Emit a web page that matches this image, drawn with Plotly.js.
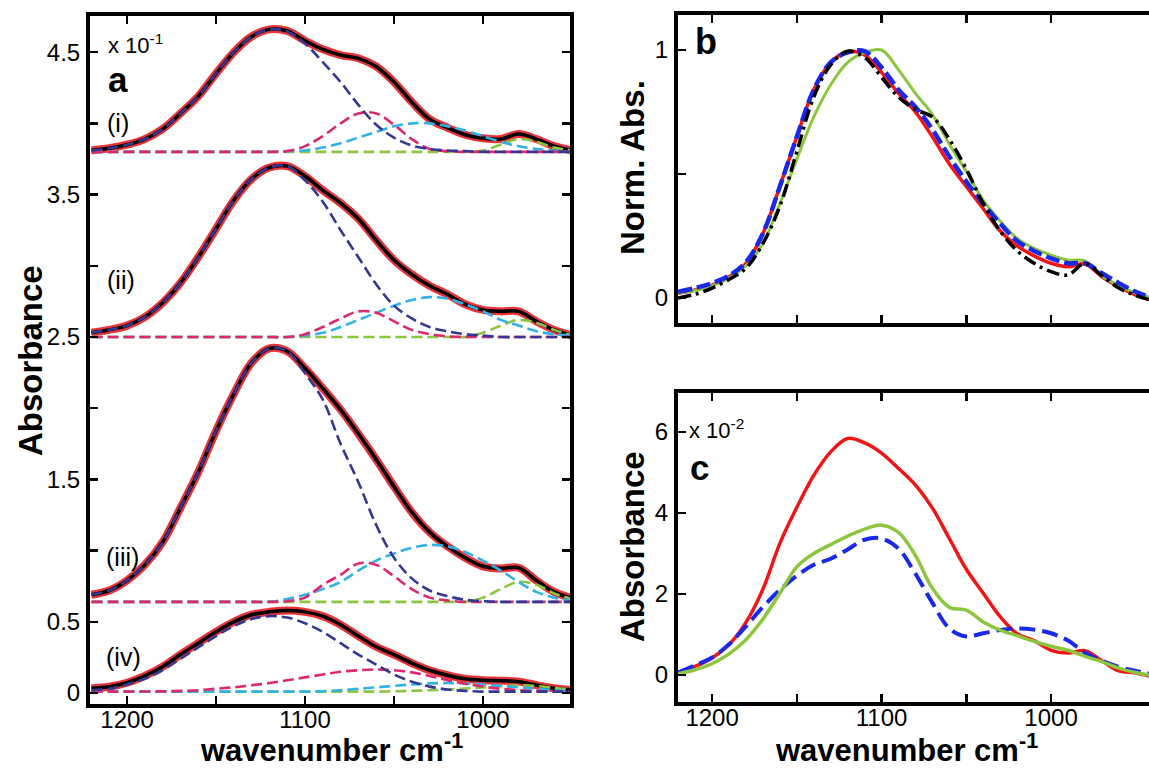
<!DOCTYPE html>
<html>
<head>
<meta charset="utf-8">
<script src="https://cdn.plot.ly/plotly-3.0.1.min.js"></script>
<style>html,body{margin:0;padding:0;background:#fff;}#chart{width:1149px;height:769px;}</style>
</head>
<body>
<div id="chart"></div>
<script>
// ---------- DATA ----------
// Panel a: wavenumber grid (cm-1) and spectra (x 10^-1, offset stacked)
const wnA = [1220,1210,1200,1190,1180,1170,1160,1150,1140,1130,1120,1110,1100,1090,1080,1070,1060,1050,1040,1030,1020,1010,1000,990,980,970,960,950];

const totI   = [3.81,3.825,3.85,3.89,3.96,4.07,4.19,4.35,4.50,4.61,4.66,4.65,4.58,4.52,4.48,4.457,4.40,4.29,4.15,4.03,3.97,3.92,3.895,3.89,3.925,3.89,3.84,3.81];
const navyI  = [3.81,3.825,3.85,3.89,3.96,4.07,4.19,4.35,4.50,4.61,4.66,4.645,4.56,4.43,4.29,4.13,3.99,3.90,3.845,3.82,3.81,3.805,3.80,3.80,3.80,3.80,3.80,3.80];
const magI   = [3.80,3.80,3.80,3.80,3.80,3.80,3.80,3.80,3.80,3.80,3.80,3.805,3.84,3.91,4.00,4.07,4.07,3.99,3.89,3.82,3.805,3.80,3.80,3.80,3.80,3.80,3.80,3.80];
const cyanI  = [3.80,3.80,3.80,3.80,3.80,3.80,3.80,3.80,3.80,3.80,3.80,3.805,3.81,3.83,3.86,3.90,3.94,3.98,4.00,4.00,3.98,3.95,3.91,3.87,3.84,3.82,3.81,3.80];
const grnI   = [3.80,3.80,3.80,3.80,3.80,3.80,3.80,3.80,3.80,3.80,3.80,3.80,3.80,3.80,3.80,3.80,3.80,3.80,3.80,3.80,3.80,3.80,3.81,3.85,3.89,3.87,3.83,3.81];

const totII  = [2.53,2.55,2.58,2.64,2.74,2.88,3.06,3.26,3.46,3.61,3.69,3.70,3.63,3.53,3.44,3.33,3.18,3.04,2.94,2.86,2.80,2.73,2.69,2.68,2.68,2.61,2.55,2.51];
const navyII = [2.53,2.55,2.58,2.64,2.74,2.88,3.06,3.26,3.46,3.61,3.69,3.70,3.60,3.45,3.25,3.06,2.87,2.72,2.63,2.57,2.54,2.52,2.51,2.50,2.50,2.50,2.50,2.50];
const magII  = [2.50,2.50,2.50,2.50,2.50,2.50,2.50,2.50,2.50,2.50,2.50,2.50,2.52,2.57,2.63,2.68,2.67,2.61,2.55,2.52,2.505,2.50,2.50,2.50,2.50,2.50,2.50,2.50];
const cyanII = [2.50,2.50,2.50,2.50,2.50,2.50,2.50,2.50,2.50,2.50,2.50,2.50,2.51,2.53,2.57,2.62,2.67,2.72,2.76,2.78,2.77,2.73,2.68,2.62,2.58,2.54,2.52,2.51];
const grnII  = [2.50,2.50,2.50,2.50,2.50,2.50,2.50,2.50,2.50,2.50,2.50,2.50,2.50,2.50,2.50,2.50,2.50,2.50,2.50,2.50,2.50,2.50,2.53,2.58,2.62,2.60,2.55,2.51];

const totIII  = [0.69,0.72,0.79,0.90,1.06,1.30,1.55,1.84,2.10,2.32,2.42,2.40,2.28,2.14,1.99,1.82,1.64,1.45,1.27,1.13,1.03,0.95,0.89,0.875,0.88,0.79,0.71,0.665];
const navyIII = [0.69,0.72,0.79,0.90,1.06,1.30,1.55,1.84,2.10,2.32,2.42,2.40,2.245,2.06,1.75,1.48,1.18,0.95,0.805,0.72,0.68,0.655,0.645,0.64,0.64,0.64,0.64,0.64];
const magIII  = [0.64,0.64,0.64,0.64,0.64,0.64,0.64,0.64,0.64,0.64,0.64,0.645,0.67,0.76,0.83,0.91,0.90,0.82,0.73,0.67,0.65,0.64,0.64,0.64,0.64,0.64,0.64,0.64];
const cyanIII = [0.64,0.64,0.64,0.64,0.64,0.64,0.64,0.64,0.64,0.64,0.64,0.66,0.69,0.73,0.78,0.86,0.93,0.98,1.02,1.04,1.03,0.99,0.93,0.86,0.78,0.71,0.67,0.65];
const grnIII  = [0.64,0.64,0.64,0.64,0.64,0.64,0.64,0.64,0.64,0.64,0.64,0.64,0.64,0.64,0.64,0.64,0.64,0.64,0.64,0.64,0.64,0.64,0.67,0.73,0.78,0.76,0.70,0.66];

const totIV  = [0.033,0.044,0.072,0.12,0.185,0.27,0.35,0.43,0.50,0.55,0.57,0.58,0.57,0.54,0.48,0.40,0.325,0.27,0.21,0.16,0.125,0.10,0.09,0.087,0.08,0.056,0.033,0.02];
const navyIV = [0.02,0.03,0.06,0.10,0.16,0.24,0.32,0.40,0.47,0.52,0.54,0.53,0.49,0.43,0.35,0.27,0.20,0.13,0.08,0.045,0.025,0.015,0.01,0.01,0.01,0.01,0.01,0.01];
const magIV  = [0.01,0.01,0.01,0.011,0.012,0.015,0.02,0.03,0.04,0.055,0.07,0.09,0.11,0.13,0.15,0.16,0.165,0.16,0.145,0.12,0.09,0.065,0.045,0.03,0.02,0.015,0.01,0.01];
const cyanIV = [0.01,0.01,0.01,0.01,0.01,0.01,0.01,0.01,0.01,0.01,0.01,0.01,0.01,0.013,0.02,0.03,0.04,0.05,0.06,0.068,0.07,0.068,0.06,0.05,0.04,0.03,0.02,0.015];
const grnIV  = [0.01,0.01,0.01,0.01,0.01,0.01,0.01,0.01,0.01,0.01,0.01,0.01,0.01,0.01,0.01,0.01,0.01,0.012,0.015,0.02,0.025,0.032,0.04,0.048,0.055,0.05,0.035,0.025];

// Panel b: normalised absorbance
const wnBC = [1220,1210,1200,1190,1180,1170,1160,1150,1140,1130,1120,1110,1100,1090,1080,1070,1060,1050,1040,1030,1020,1010,1000,990,980,970,960,950,940];
const bRed   = [0.019,0.032,0.052,0.086,0.14,0.26,0.45,0.65,0.84,0.95,0.993,0.98,0.91,0.825,0.75,0.65,0.54,0.45,0.36,0.27,0.21,0.17,0.14,0.126,0.137,0.086,0.046,0.012,-0.01];
const bBlue  = [0.025,0.04,0.06,0.09,0.145,0.26,0.45,0.65,0.84,0.95,0.99,0.995,0.93,0.84,0.77,0.68,0.57,0.47,0.38,0.30,0.23,0.19,0.16,0.14,0.14,0.10,0.06,0.025,0.0];
const bGreen = [0.02,0.03,0.05,0.08,0.13,0.22,0.38,0.56,0.73,0.86,0.95,0.99,1.0,0.92,0.825,0.74,0.62,0.51,0.395,0.31,0.24,0.20,0.173,0.153,0.15,0.09,0.05,0.02,0.0];
const bBlack = [0.0,0.015,0.04,0.075,0.12,0.22,0.37,0.59,0.81,0.94,0.995,0.97,0.89,0.81,0.76,0.73,0.64,0.52,0.38,0.27,0.19,0.14,0.106,0.093,0.14,0.09,0.04,0.01,-0.01];

// Panel c: absorbance (x 10^-2)
const cRed   = [0.07,0.21,0.42,0.75,1.30,2.12,3.25,4.14,4.93,5.51,5.84,5.73,5.48,5.10,4.69,4.12,3.37,2.61,2.02,1.44,1.02,0.85,0.61,0.54,0.60,0.35,0.10,0.05,-0.05];
const cGreen = [0.03,0.13,0.28,0.52,0.87,1.38,2.02,2.67,3.00,3.22,3.43,3.60,3.70,3.52,2.95,2.14,1.67,1.60,1.31,1.11,0.97,0.83,0.71,0.61,0.46,0.33,0.17,0.06,-0.02];
const cBlue  = [0.06,0.24,0.43,0.76,1.20,1.68,2.10,2.45,2.72,2.87,3.10,3.34,3.37,3.12,2.50,1.78,1.15,0.95,1.03,1.11,1.15,1.12,1.03,0.85,0.55,0.35,0.20,0.10,0.02];

// Tick values (labelled major ticks + unlabelled minor ticks)
const xMajor = [1200,1100,1000];
const xMinor = [1150,1050];
const aYMajor = [0,0.5,1.5,2.5,3.5,4.5];
const aYMinor = [1,2,3,4];
const bYMajor = [0,1];
const bYMinor = [0.5];
const cYMajor = [0,2,4,6];

// ---------- LAYOUT HELPERS ----------
const W = 1149, H = 769;
const px = p => p / W;
const py = p => 1 - p / H;
const FONT = 'Liberation Sans, Arial, Helvetica, sans-serif';

const C_RED = 'rgba(228,30,36,0.9)';
const C_NAVY = 'rgb(52,56,148)';
const C_MAG = 'rgb(222,40,110)';
const C_CYAN = 'rgb(48,178,230)';
const C_GRN = 'rgb(140,198,63)';

const traces = [];
function spectrum(tot, navy, mag, cyan, grn) {
  traces.push({x: wnA, y: tot, xaxis: 'x', yaxis: 'y', mode: 'lines', line: {color: C_RED, width: 8, shape: 'spline'}});
  traces.push({x: wnA, y: tot, xaxis: 'x', yaxis: 'y', mode: 'lines', line: {color: '#000', width: 3.5, shape: 'spline'}});
  [[grn, C_GRN], [cyan, C_CYAN], [mag, C_MAG], [navy, C_NAVY]].forEach(([d, c]) => {
    traces.push({x: wnA, y: d, xaxis: 'x', yaxis: 'y', mode: 'lines', line: {color: c, width: 2.6, dash: '11px,5px', shape: 'spline'}});
  });
}
spectrum(totI, navyI, magI, cyanI, grnI);
spectrum(totII, navyII, magII, cyanII, grnII);
spectrum(totIII, navyIII, magIII, cyanIII, grnIII);
spectrum(totIV, navyIV, magIV, cyanIV, grnIV);

// panel b
traces.push({x: wnBC, y: bRed, xaxis: 'x2', yaxis: 'y2', mode: 'lines', line: {color: 'rgb(240,20,20)', width: 3.5, shape: 'spline'}});
traces.push({x: wnBC, y: bGreen, xaxis: 'x2', yaxis: 'y2', mode: 'lines', line: {color: C_GRN, width: 3, shape: 'spline'}});
traces.push({x: wnBC, y: bBlue, xaxis: 'x2', yaxis: 'y2', mode: 'lines', line: {color: 'rgb(25,40,235)', width: 4.5, dash: '14px,5px', shape: 'spline'}});
traces.push({x: wnBC, y: bBlack, xaxis: 'x2', yaxis: 'y2', mode: 'lines', line: {color: '#000', width: 3.5, dash: '13px,5px,3px,5px', shape: 'spline'}});

// panel c
traces.push({x: wnBC, y: cRed, xaxis: 'x3', yaxis: 'y3', mode: 'lines', line: {color: 'rgb(240,20,20)', width: 3.5, shape: 'spline'}});
traces.push({x: wnBC, y: cBlue, xaxis: 'x3', yaxis: 'y3', mode: 'lines', line: {color: 'rgb(25,40,235)', width: 4, dash: '16px,7px', shape: 'spline'}});
traces.push({x: wnBC, y: cGreen, xaxis: 'x3', yaxis: 'y3', mode: 'lines', line: {color: C_GRN, width: 3.5, shape: 'spline'}});

function axis(domain, range, anchor, major, minor, mirror, showLabels, standoff) {
  const a = {
    domain: domain, range: range, anchor: anchor,
    showline: true, linewidth: 4, linecolor: '#000', mirror: mirror,
    ticks: 'inside', ticklen: 8, tickwidth: 2.5, tickcolor: '#000',
    tickmode: 'array', tickvals: major,
    showticklabels: showLabels,
    tickfont: {family: FONT, size: 24, color: '#000'},
    ticklabelstandoff: standoff,
    showgrid: false, zeroline: false, fixedrange: true
  };
  if (minor) {
    a.minor = {tickmode: 'array', tickvals: minor, ticks: 'inside', ticklen: 8, tickwidth: 2.5, tickcolor: '#000', showgrid: false};
  }
  return a;
}

const layout = {
  width: W, height: H,
  margin: {l: 0, r: 0, t: 0, b: 0, pad: 0},
  paper_bgcolor: '#fff', plot_bgcolor: '#fff',
  showlegend: false,
  font: {family: FONT, color: '#000'},
  xaxis:  axis([px(90), px(570)], [1220.8, 951.1], 'y', xMajor, xMinor, 'ticks', true, -9),
  yaxis:  axis([py(704), py(16)], [-0.077, 4.754], 'x', aYMajor, aYMinor, 'ticks', true, 1),
  xaxis2: axis([px(678), 1], [1220.1, 942.2], 'y2', xMajor, xMinor, 'ticks', false, 0),
  yaxis2: axis([py(323), py(15)], [-0.1008, 1.1411], 'x2', bYMajor, bYMinor, false, true, 1),
  xaxis3: axis([px(678), 1], [1220.1, 942.2], 'y3', xMajor, xMinor, 'ticks', true, -9),
  yaxis3: axis([py(702), py(393)], [-0.667, 6.963], 'x3', cYMajor, null, false, true, 1),
  annotations: []
};

function ann(text, x, y, size, bold, opts) {
  layout.annotations.push(Object.assign({
    text: bold ? '<b>' + text + '</b>' : text,
    xref: 'paper', yref: 'paper', x: px(x), y: py(y),
    xanchor: 'center', yanchor: 'middle', showarrow: false,
    font: {family: FONT, size: size, color: '#000'}
  }, opts || {}));
}
// axis titles
ann('Absorbance', 30, 361, 33, true, {textangle: -90});
ann('Norm. Abs.', 632, 168, 33, true, {textangle: -90});
ann('Absorbance', 632, 547, 33, true, {textangle: -90});
ann('wavenumber cm<sup>-1</sup>', 331, 769, 31, true, {yanchor: 'bottom', borderpad: 0});
ann('wavenumber cm<sup>-1</sup>', 906, 769, 31, true, {yanchor: 'bottom', borderpad: 0});
// panel labels
ann('a', 118, 79, 35, true, {borderpad: 0});
ann('b', 706, 42, 36, true);
ann('c', 699, 467, 35, true, {borderpad: 0});
ann('x 10<sup>-1</sup>', 107, 44, 22, false, {xanchor: 'left', borderpad: 0});
ann('x 10<sup>-2</sup>', 688, 429, 22, false, {xanchor: 'left', borderpad: 0});
ann('(i)', 105, 123, 25, false, {xanchor: 'left'});
ann('(ii)', 105, 280, 25, false, {xanchor: 'left'});
ann('(iii)', 104, 557, 25, false, {xanchor: 'left'});
ann('(iv)', 104, 657, 25, false, {xanchor: 'left'});

Plotly.newPlot('chart', traces, layout, {staticPlot: true, displayModeBar: false});
</script>
</body>
</html>
